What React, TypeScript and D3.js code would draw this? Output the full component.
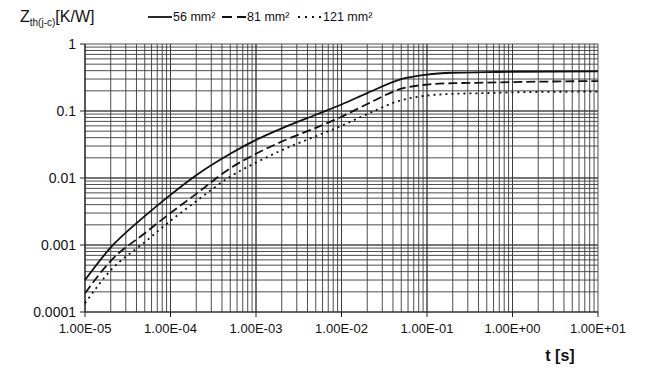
import { useRef, useEffect } from 'react';
import * as d3 from 'd3';

const times = [1e-5, 2e-5, 5e-5, 1e-4, 2e-4, 5e-4, 1e-3, 2e-3, 5e-3, 1e-2, 2e-2, 5e-2, 1e-1, 2e-1, 5e-1, 1, 10];
const z56 = [0.0003, 0.00092, 0.0027, 0.0056, 0.011, 0.023, 0.037, 0.055, 0.088, 0.125, 0.185, 0.3, 0.35, 0.372, 0.38, 0.385, 0.39];
const z81 = [0.00019, 0.00058, 0.0015, 0.003, 0.0058, 0.014, 0.023, 0.035, 0.056, 0.082, 0.127, 0.215, 0.248, 0.26, 0.265, 0.27, 0.28];
const z121 = [0.000135, 0.00042, 0.0011, 0.0023, 0.0045, 0.0105, 0.017, 0.026, 0.042, 0.06, 0.09, 0.145, 0.17, 0.18, 0.185, 0.19, 0.195];

const xTicks = [1e-5, 1e-4, 1e-3, 1e-2, 1e-1, 1, 10];
const xTickLabels = ['1.00E-05', '1.00E-04', '1.00E-03', '1.00E-02', '1.00E-01', '1.00E+00', '1.00E+01'];
const yTicks = [1e-4, 1e-3, 1e-2, 1e-1, 1];
const yTickLabels = ['0.0001', '0.001', '0.01', '0.1', '1'];

const series = [
  { name: '56 mm²', values: z56, dash: '' },
  { name: '81 mm²', values: z81, dash: '9,4' },
  { name: '121 mm²', values: z121, dash: '2,4' },
];

export default function App() {
  const svgRef = useRef<SVGSVGElement>(null);
  const width = 654;
  const height = 385;

  useEffect(() => {
    if (!svgRef.current) return;
    const svg = d3.select(svgRef.current);
    svg.selectAll('*').remove();

    const margin = { top: 44, right: 56, bottom: 73, left: 85 };
    const w = width - margin.left - margin.right;
    const h = height - margin.top - margin.bottom;
    const font = 'Liberation Sans, Arial, sans-serif';

    const g = svg.append('g').attr('transform', `translate(${margin.left},${margin.top})`);

    const x = d3.scaleLog().domain([1e-5, 10]).range([0, w]);
    const y = d3.scaleLog().domain([1e-4, 1]).range([h, 0]);

    // Grid (log minor lines)
    const minor = (lo: number, hi: number) => {
      const out: number[] = [];
      for (let e = lo; e < hi; e++) {
        for (let k = 1; k <= 10; k++) out.push(k * Math.pow(10, e));
      }
      return out;
    };
    g.append('g')
      .selectAll('line')
      .data(minor(-5, 1))
      .join('line')
      .attr('x1', (d) => x(d)).attr('x2', (d) => x(d))
      .attr('y1', 0).attr('y2', h)
      .attr('stroke', '#3a3a3a')
      .attr('stroke-width', 0.9);
    g.append('g')
      .selectAll('line')
      .data(minor(-4, 0))
      .join('line')
      .attr('y1', (d) => y(d)).attr('y2', (d) => y(d))
      .attr('x1', 0).attr('x2', w)
      .attr('stroke', '#3a3a3a')
      .attr('stroke-width', 0.9);

    // Axes
    g.append('line').attr('x1', 0).attr('x2', 0).attr('y1', 0).attr('y2', h).attr('stroke', '#222').attr('stroke-width', 1.2);
    g.append('line').attr('x1', 0).attr('x2', w).attr('y1', h).attr('y2', h).attr('stroke', '#222').attr('stroke-width', 1.2);

    g.selectAll('.ytick')
      .data(yTicks)
      .join('line')
      .attr('x1', -5).attr('x2', 0)
      .attr('y1', (d) => y(d)).attr('y2', (d) => y(d))
      .attr('stroke', '#222');
    g.selectAll('.ylab')
      .data(yTicks)
      .join('text')
      .attr('x', -9)
      .attr('y', (d) => y(d) + 5)
      .attr('text-anchor', 'end')
      .attr('font-family', font)
      .attr('font-size', 14)
      .attr('fill', '#111')
      .text((_, i) => yTickLabels[i]);

    g.selectAll('.xtick')
      .data(xTicks)
      .join('line')
      .attr('x1', (d) => x(d)).attr('x2', (d) => x(d))
      .attr('y1', h).attr('y2', h + 5)
      .attr('stroke', '#222');
    g.selectAll('.xlab')
      .data(xTicks)
      .join('text')
      .attr('x', (d) => x(d))
      .attr('y', h + 21)
      .attr('text-anchor', 'middle')
      .attr('font-family', font)
      .attr('font-size', 13)
      .attr('fill', '#111')
      .text((_, i) => xTickLabels[i]);

    // Curves
    const line = d3.line<number>()
      .x((_, i) => x(times[i]))
      .y((d) => y(d))
      .curve(d3.curveMonotoneX);

    series.forEach((s) => {
      g.append('path')
        .datum(s.values)
        .attr('fill', 'none')
        .attr('stroke', '#111')
        .attr('stroke-width', 1.8)
        .attr('stroke-dasharray', s.dash || null)
        .attr('d', line);
    });

    // Axis titles
    const title = svg.append('text')
      .attr('x', 20).attr('y', 22)
      .attr('font-family', font)
      .attr('font-size', 16)
      .attr('fill', '#111');
    title.append('tspan').text('Z');
    title.append('tspan').attr('font-size', 10).attr('dy', 4).text('th(j-c)');
    title.append('tspan').attr('dy', -4).text('[K/W]');

    svg.append('text')
      .attr('x', 560).attr('y', 361)
      .attr('text-anchor', 'middle')
      .attr('font-family', font)
      .attr('font-size', 16)
      .attr('font-weight', 'bold')
      .attr('fill', '#111')
      .text('t [s]');

    // Legend
    const legendX = [148, 222, 298];
    series.forEach((s, i) => {
      const lx = legendX[i];
      svg.append('line')
        .attr('x1', lx).attr('x2', lx + 24)
        .attr('y1', 17).attr('y2', 17)
        .attr('stroke', '#111')
        .attr('stroke-width', 1.8)
        .attr('stroke-dasharray', i === 1 ? '10,5' : i === 2 ? '2,5' : null);
      svg.append('text')
        .attr('x', lx + 25).attr('y', 21)
        .attr('font-family', font)
        .attr('font-size', 12.5)
        .attr('fill', '#111')
        .text(s.name);
    });
  }, []);

  return (
    <svg
      ref={svgRef}
      width={width}
      height={height}
      style={{ position: 'absolute', left: 0, top: 0, background: '#fff' }}
    />
  );
}
